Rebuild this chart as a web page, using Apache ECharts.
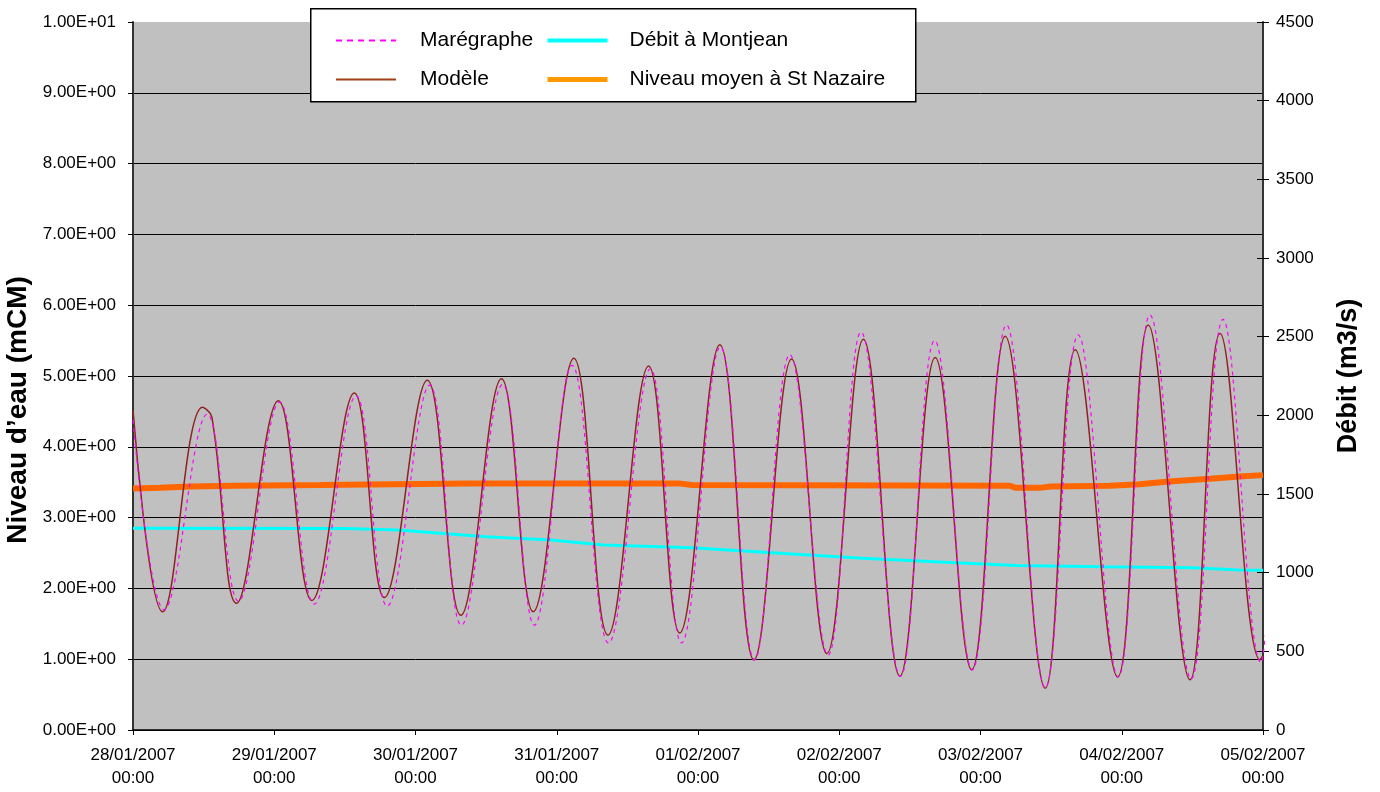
<!DOCTYPE html>
<html><head><meta charset="utf-8">
<script src="https://cdn.jsdelivr.net/npm/echarts@6/dist/echarts.min.js"></script>
<style>html,body{margin:0;padding:0;background:#fff}#c{width:1380px;height:792px}</style>
</head><body><div id="c"></div>
<script>
// hours since 28/01/2007 00:00
const xTickLabels = ['28/01/2007\n00:00','29/01/2007\n00:00','30/01/2007\n00:00','31/01/2007\n00:00',
  '01/02/2007\n00:00','02/02/2007\n00:00','03/02/2007\n00:00','04/02/2007\n00:00','05/02/2007\n00:00'];

const maregraphe = [[0,4.38],[5.3,1.70],[12.6,4.46],[17.9,1.82],[24.9,4.63],[30.8,1.78],[37.9,4.72],[43.2,1.75],
  [50.4,4.87],[55.8,1.48],[62.8,4.88],[68.2,1.48],[74.6,5.15],[80.8,1.23],[87.9,5.10],[93.2,1.23],
  [99.8,5.41],[105.6,0.99],[111.6,5.30],[118.1,1.06],[123.7,5.62],[130.4,0.76],[136.2,5.50],[142.6,0.85],
  [148.4,5.72],[155.0,0.60],[160.6,5.58],[167.4,0.75],[172.8,5.86],[179.8,0.72],[185.2,5.80],[191.7,0.95],[192.6,1.50]];

const modele = [[0,4.52],[5.05,1.67],[11.8,4.56],[13.4,4.42],[17.6,1.79],[24.7,4.65],[30.4,1.83],[37.6,4.76],[42.7,1.87],
  [50.0,4.94],[55.7,1.62],[62.6,4.96],[68.0,1.67],[74.9,5.25],[80.7,1.34],[87.6,5.14],[92.9,1.37],
  [99.7,5.44],[105.5,0.99],[111.9,5.24],[117.9,1.08],[124.1,5.52],[130.3,0.76],[136.3,5.26],[142.5,0.85],
  [148.2,5.56],[155.0,0.59],[160.1,5.37],[167.3,0.75],[172.5,5.72],[179.6,0.71],[184.7,5.60],[191.5,0.99],[192,1.05]];

const debit = [[0,1282],[36,1280],[45,1271],[50,1257],[60,1229],[71,1208],[80,1176],[95,1158],[112,1119],
  [124,1091],[138,1066],[150,1046],[165,1038],[180,1032],[188,1017],[192,1015]];

const niveauMoyen = [[0,3.41],[4.6,3.42],[9.7,3.44],[17.3,3.45],[31.8,3.46],[57.3,3.48],[93,3.48],[95,3.46],
  [149,3.45],[150,3.42],[154,3.42],[156,3.44],[166,3.45],[171,3.47],[176,3.51],[183,3.55],[188,3.58],[192,3.60]];

const FONT = '"Liberation Sans", Arial, sans-serif';

function sci(v) {
  const s = Number(v).toExponential(2).toUpperCase();
  const m = s.match(/^(.*)E([+-])(\d+)$/);
  return m[1] + 'E' + m[2] + m[3].padStart(2, '0');
}

const legendCommon = {
  z: 20, top: 25, orient: 'vertical', itemWidth: 60, itemHeight: 14, itemGap: 18,
  itemStyle: { opacity: 0, borderWidth: 0 }
};

const chart = echarts.init(document.getElementById('c'));
chart.setOption({
  animation: false,
  backgroundColor: '#fff',
  textStyle: { fontFamily: FONT },
  grid: { left: 133, right: 117, top: 22, bottom: 62, show: true, backgroundColor: '#C0C0C0', borderWidth: 0,
    containLabel: false, outerBoundsMode: 'none' },
  graphic: [{
    type: 'rect', left: 310, top: 8, z: 10,
    shape: { width: 605, height: 93 },
    style: { fill: '#fff', stroke: '#000', lineWidth: 1.5 }
  }],
  legend: [Object.assign({}, legendCommon, {
    left: 330,
    textStyle: { fontSize: 21, color: '#000', fontFamily: FONT, padding: [0, 0, 0, 19] },
    data: [
      { name: 'Marégraphe', lineStyle: { width: 2, type: [6, 5], opacity: 1 } },
      { name: 'Modèle', lineStyle: { width: 2, opacity: 1, color: '#A0401A' } }
    ]
  }), Object.assign({}, legendCommon, {
    left: 540,
    textStyle: { fontSize: 21, color: '#000', fontFamily: FONT, padding: [0, 0, 0, 17] },
    data: [
      { name: 'Débit à Montjean', lineStyle: { width: 4, opacity: 1 } },
      { name: 'Niveau moyen à St Nazaire', lineStyle: { width: 5, color: '#FF9900', opacity: 1 } }
    ]
  })],
  xAxis: {
    type: 'value', min: 0, max: 192, interval: 24,
    axisLine: { onZero: false, lineStyle: { color: '#000', width: 1.5 } },
    axisTick: { show: true, length: 5, lineStyle: { color: '#000' } },
    splitLine: { show: false },
    axisLabel: {
      fontSize: 17, lineHeight: 23, color: '#000', margin: 14, fontFamily: FONT,
      formatter: v => xTickLabels[Math.round(v / 24)]
    }
  },
  yAxis: [{
    type: 'value', position: 'left', min: 0, max: 10, interval: 1,
    name: 'Niveau d’eau (mCM)', nameLocation: 'middle', nameGap: 99, nameRotate: 90,
    nameTextStyle: { fontSize: 28, fontWeight: 'bold', color: '#000', fontFamily: FONT, padding: [0, 68, 0, 0] },
    axisLine: { show: true, lineStyle: { color: '#333', width: 2 } },
    axisTick: { show: true, length: 5, lineStyle: { color: '#000' } },
    splitLine: { show: true, showMaxLine: false, lineStyle: { color: '#000', width: 1 } },
    axisLabel: { fontSize: 17, color: '#000', margin: 17, fontFamily: FONT, formatter: sci }
  }, {
    type: 'value', position: 'right', min: 0, max: 4500, interval: 500,
    name: 'Débit (m3/s)', nameLocation: 'middle', nameGap: 72, nameRotate: 90,
    nameTextStyle: { fontSize: 27, fontWeight: 'bold', color: '#000', fontFamily: FONT },
    axisLine: { show: true, lineStyle: { color: '#333', width: 2 } },
    axisTick: { show: true, length: 6, lineStyle: { color: '#000' } },
    splitLine: { show: false },
    axisLabel: { fontSize: 17, color: '#000', margin: 13, fontFamily: FONT, formatter: v => String(v) }
  }, {
    type: 'value', position: 'right', min: 0, max: 4500, interval: 500,
    axisLine: { show: false },
    axisTick: { show: true, inside: true, length: 6, lineStyle: { color: '#000' } },
    splitLine: { show: false },
    axisLabel: { show: false }
  }],
  series: [{
    name: 'Débit à Montjean', type: 'line', yAxisIndex: 1, data: debit, symbol: 'none',
    lineStyle: { color: '#00FFFF', width: 3 }, itemStyle: { color: '#00FFFF' }, z: 2
  }, {
    name: 'Niveau moyen à St Nazaire', type: 'line', yAxisIndex: 0, data: niveauMoyen, symbol: 'none',
    lineStyle: { color: '#FF6600', width: 6 }, itemStyle: { color: '#FF6600' }, z: 3
  }, {
    name: 'Modèle', type: 'line', yAxisIndex: 0, data: modele, symbol: 'none', smooth: 0.4,
    lineStyle: { color: '#8E2222', width: 1.5 }, itemStyle: { color: '#8E2222' }, z: 4
  }, {
    name: 'Marégraphe', type: 'line', yAxisIndex: 0, data: maregraphe, symbol: 'none', smooth: 0.4,
    lineStyle: { color: '#FF00FF', width: 1.2, type: [4, 4] }, itemStyle: { color: '#FF00FF' }, z: 5
  }]
});
</script>
</body></html>
